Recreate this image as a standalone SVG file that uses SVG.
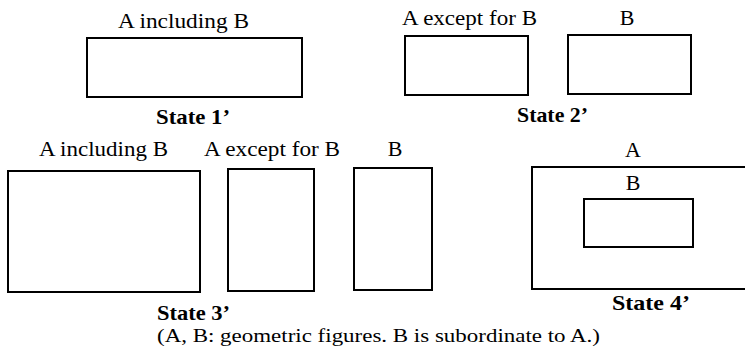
<svg xmlns="http://www.w3.org/2000/svg" width="745" height="350" viewBox="0 0 745 350" font-family="'Liberation Serif', 'Times New Roman', 'DejaVu Serif', serif">
<style>
.bx{fill:#fff;stroke:#000;stroke-width:2}
.t{font-family:'Liberation Serif','Times New Roman','DejaVu Serif',serif;font-size:22px;fill:#000}
.c{text-anchor:middle}
.b{font-weight:bold}
</style>
<rect width="745" height="350" fill="#fff"/>
<g id="state1">
<text class="t c" x="183.5" y="28" textLength="131" lengthAdjust="spacingAndGlyphs">A including B</text>
<rect class="bx" x="87" y="38" width="215" height="59"/>
<text class="t c b" x="193" y="124" textLength="74" lengthAdjust="spacingAndGlyphs">State 1’</text>
</g>
<g id="state2">
<text class="t c" x="469.5" y="25" textLength="135" lengthAdjust="spacingAndGlyphs">A except for B</text>
<rect class="bx" x="405" y="36" width="123" height="59"/>
<text class="t c" x="627" y="25">B</text>
<rect class="bx" x="568" y="35" width="123" height="59"/>
<text class="t c b" x="552.5" y="122" textLength="71" lengthAdjust="spacingAndGlyphs">State 2’</text>
</g>
<g id="state3">
<text class="t c" x="103.5" y="156" textLength="129" lengthAdjust="spacingAndGlyphs">A including B</text>
<rect class="bx" x="8" y="171" width="192" height="121"/>
<text class="t c" x="272" y="156" textLength="136" lengthAdjust="spacingAndGlyphs">A except for B</text>
<rect class="bx" x="228" y="169" width="86" height="122"/>
<text class="t c" x="395" y="156">B</text>
<rect class="bx" x="354" y="168" width="78" height="122"/>
<text class="t c b" x="193.5" y="320" textLength="73" lengthAdjust="spacingAndGlyphs">State 3’</text>
</g>
<g id="state4">
<text class="t c" x="633" y="157">A</text>
<rect class="bx" x="532" y="167" width="220" height="122"/>
<text class="t c" x="633" y="190">B</text>
<rect class="bx" x="584" y="199" width="109" height="48"/>
<text class="t c b" x="651" y="310" textLength="78" lengthAdjust="spacingAndGlyphs">State 4’</text>
</g>
<g id="note">
<text class="t" x="157" y="342" style="font-size:19px" textLength="443" lengthAdjust="spacingAndGlyphs">(A, B: geometric figures. B is subordinate to A.)</text>
</g>
<g id="connectors"/>
</svg>
